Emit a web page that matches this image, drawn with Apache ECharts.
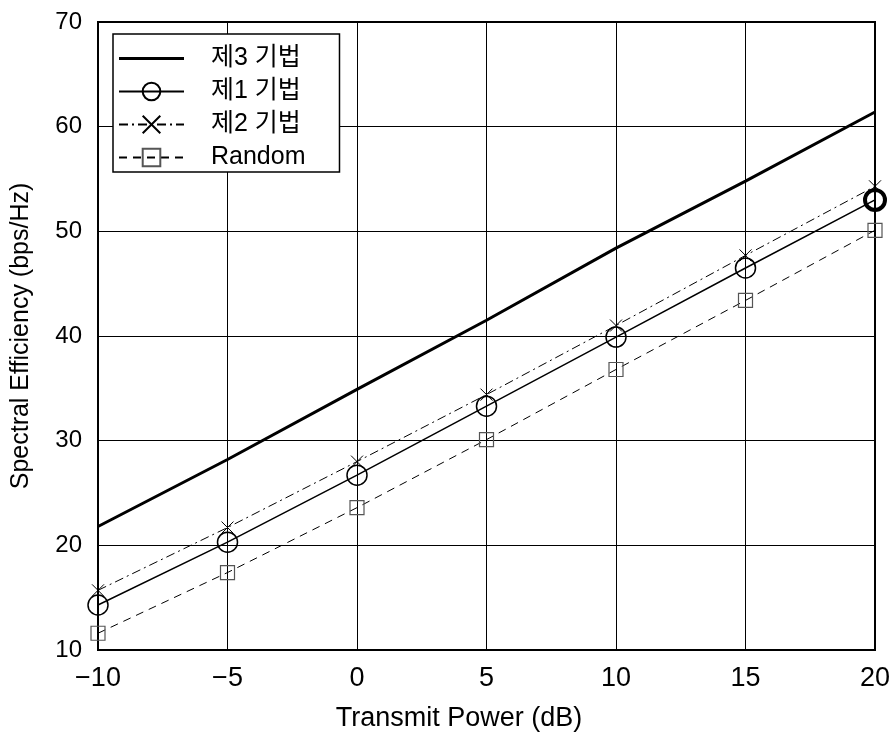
<!DOCTYPE html>
<html>
<head>
<meta charset="utf-8">
<script src="https://cdn.jsdelivr.net/npm/echarts@6/dist/echarts.min.js"></script>
<style>
  html, body { margin: 0; padding: 0; background: #fff; }
  #main { width: 890px; height: 733px; }
</style>
</head>
<body>
<div id="main"></div>
<script>
var power = [-10, -5, 0, 5, 10, 15, 20];
var method3 = [21.8, 28.2, 34.9, 41.5, 48.4, 54.8, 61.4];
var method1 = [14.3, 20.3, 26.7, 33.3, 39.9, 46.5, 53.0];
var method2 = [15.7, 21.7, 28.0, 34.4, 41.0, 47.7, 54.3];
var random = [11.6, 17.4, 23.6, 30.1, 36.8, 43.4, 50.1];

function pairs(vals) {
  return power.map(function (p, i) { return [p, vals[i]]; });
}

var latin = 'Liberation Sans';
var cross = 'path://M0,0L10,10M10,0L0,10';

var chart = echarts.init(document.getElementById('main'));
var option = {
  backgroundColor: '#fff',
  animation: false,
  grid: {
    left: 98, right: 15, top: 22, bottom: 83,
    outerBoundsMode: 'none',
    show: true, borderColor: '#000', borderWidth: 2
  },
  legend: {
    orient: 'vertical',
    left: 113, top: 34,
    padding: [12, 34, 2, 5],
    backgroundColor: '#fff',
    borderColor: '#000',
    borderWidth: 1.5,
    itemWidth: 65,
    itemHeight: 22,
    itemGap: 8,
    textStyle: {
      fontFamily: 'Liberation Sans, Noto Sans CJK KR',
      fontSize: 25,
      lineHeight: 25,
      color: '#000',
      padding: [0, 0, 0, 22]
    },
    data: [
      { name: '제3 기법', icon: 'path://M0,0H65V3H0Z' },
      '제1 기법', '제2 기법', 'Random'
    ]
  },
  xAxis: {
    type: 'value',
    min: -10, max: 20, interval: 5,
    name: 'Transmit Power (dB)',
    nameLocation: 'middle',
    nameGap: 55,
    nameTextStyle: { fontFamily: latin, fontSize: 27, color: '#000', padding: [0, 55, 0, 0] },
    axisLine: { onZero: false, lineStyle: { color: '#000', width: 2 } },
    axisTick: { show: false },
    axisLabel: {
      fontFamily: latin, fontSize: 27, color: '#000', margin: 15,
      formatter: function (v) { return String(v).replace('-', '\u2212'); }
    },
    splitLine: { lineStyle: { color: '#000', width: 1 } }
  },
  yAxis: {
    type: 'value',
    min: 10, max: 70, interval: 10,
    name: 'Spectral Efficiency (bps/Hz)',
    nameLocation: 'middle',
    nameGap: 64,
    nameTextStyle: { fontFamily: latin, fontSize: 25, color: '#000' },
    axisLine: { onZero: false, lineStyle: { color: '#000', width: 2 } },
    axisTick: { show: false },
    axisLabel: { fontFamily: latin, fontSize: 24, color: '#000', margin: 16 },
    splitLine: { lineStyle: { color: '#000', width: 1 } }
  },
  series: [
    {
      name: '제3 기법',
      type: 'line',
      data: pairs(method3),
      symbol: 'none',
      lineStyle: { color: '#000', width: 3 },
      itemStyle: { color: '#000' },
      z: 3
    },
    {
      name: '제1 기법',
      type: 'line',
      data: pairs(method1).map(function (d, i) {
        return i === power.length - 1
          ? { value: d, itemStyle: { borderWidth: 4 } }
          : d;
      }),
      symbol: 'circle',
      symbolSize: 20,
      lineStyle: { color: '#000', width: 1.5 },
      itemStyle: { color: 'transparent', borderColor: '#000', borderWidth: 1.5 },
      z: 4
    },
    {
      name: '제2 기법',
      type: 'line',
      data: pairs(method2),
      symbol: cross,
      symbolSize: 12,
      lineStyle: { color: '#000', width: 1, type: [9, 4, 2, 4] },
      itemStyle: { color: 'transparent', borderColor: '#000', borderWidth: 1 },
      z: 4
    },
    {
      name: 'Random',
      type: 'line',
      data: pairs(random),
      symbol: 'rect',
      symbolSize: 14,
      lineStyle: { color: '#000', width: 1, type: [8, 6] },
      itemStyle: { color: 'transparent', borderColor: '#555', borderWidth: 1.2 },
      z: 4
    }
  ]
};
chart.setOption(option);
</script>
</body>
</html>
